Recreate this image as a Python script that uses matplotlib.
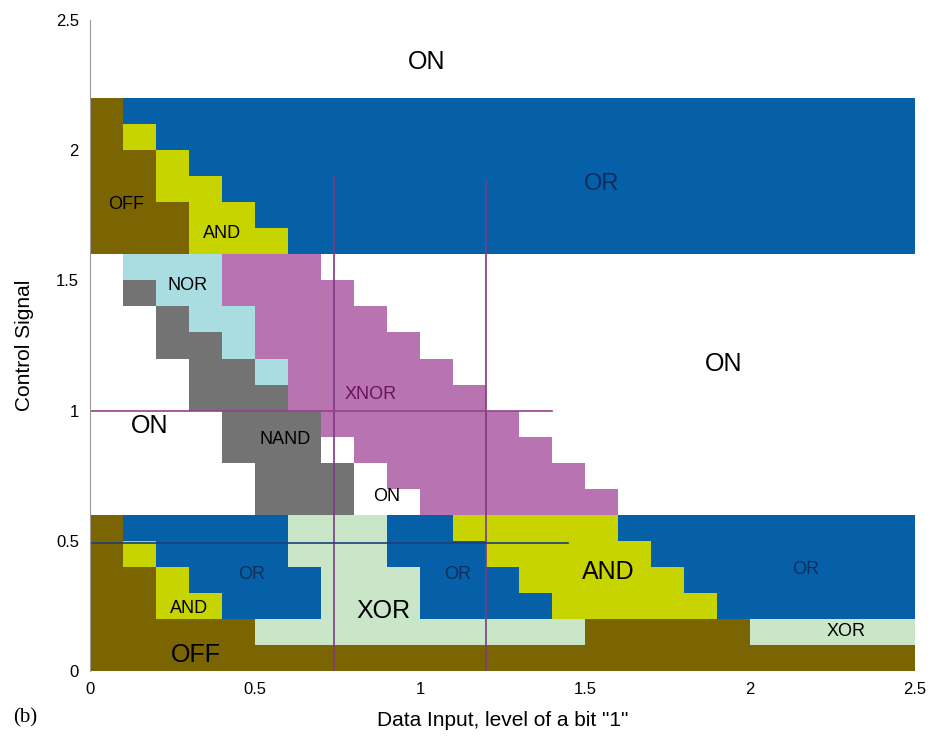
import numpy as np
import matplotlib.pyplot as plt
from matplotlib.colors import ListedColormap

# state codes: F=OFF, N=ON, O=OR, A=AND, R=NOR, X=XNOR, D=NAND, E=XOR
# each string is one row of 0.1 x 0.1 cells, x from 0 to 2.5
bottom_band = [  # control 0.0 .. 0.6
    'FFFFFFFFFFFFFFFFFFFFFFFFF',
    'FFFFFEEEEEEEEEEFFFFFEEEEE',
    'FFAAOOOEEEOOOOAAAAAOOOOOO',
    'FFAOOOOEEEOOOAAAAAOOOOOOO',
    'FAOOOOEEEOOOAAAAAOOOOOOOO',
    'FOOOOOEEEOOAAAAAOOOOOOOOO',
]
middle_band = [  # control 0.6 .. 1.6
    'NNNNNDDDNNXXXXXXNNNNNNNNN',
    'NNNNNDDDNXXXXXXNNNNNNNNNN',
    'NNNNDDDNXXXXXXNNNNNNNNNNN',
    'NNNNDDDXXXXXXNNNNNNNNNNNN',
    'NNNDDDXXXXXXNNNNNNNNNNNNN',
    'NNNDDRXXXXXNNNNNNNNNNNNNN',
    'NNDDRXXXXXNNNNNNNNNNNNNNN',
    'NNDRRXXXXNNNNNNNNNNNNNNNN',
    'NDRRXXXXNNNNNNNNNNNNNNNNN',
    'NRRRXXXNNNNNNNNNNNNNNNNNN',
]
top_band = [  # control 1.6 .. 2.2
    'FFFAAAOOOOOOOOOOOOOOOOOOO',
    'FFFAAOOOOOOOOOOOOOOOOOOOO',
    'FFAAOOOOOOOOOOOOOOOOOOOOO',
    'FFAOOOOOOOOOOOOOOOOOOOOOO',
    'FAOOOOOOOOOOOOOOOOOOOOOOO',
    'FOOOOOOOOOOOOOOOOOOOOOOOO',
]

codes = ['N', 'F', 'O', 'A', 'R', 'X', 'D', 'E']
colors = ['#ffffff', '#7b6402', '#0560a8', '#c8d400',
          '#aadde2', '#b874b0', '#737373', '#c9e6c9']

# region labels (text, x, y, size, colour)
labels = [
    ('ON', 1.02, 2.34, 18, 'black'),
    ('OR', 1.55, 1.87, 17, '#0f2d5c'),
    ('OFF', 0.11, 1.79, 13, 'black'),
    ('AND', 0.40, 1.68, 13, 'black'),
    ('NOR', 0.295, 1.48, 13, 'black'),
    ('ON', 1.92, 1.18, 18, 'black'),
    ('XNOR', 0.85, 1.06, 13, '#6b1060'),
    ('ON', 0.18, 0.94, 18, 'black'),
    ('NAND', 0.59, 0.89, 13, 'black'),
    ('ON', 0.90, 0.67, 13, 'black'),
    ('OR', 0.49, 0.37, 13, '#0f2d5c'),
    ('AND', 0.30, 0.24, 13, 'black'),
    ('OFF', 0.32, 0.06, 18, 'black'),
    ('XOR', 0.89, 0.23, 18, 'black'),
    ('OR', 1.115, 0.37, 13, '#0f2d5c'),
    ('AND', 1.57, 0.38, 18, 'black'),
    ('OR', 2.17, 0.39, 13, '#0f2d5c'),
    ('XOR', 2.29, 0.15, 13, 'black'),
]

rows = bottom_band + middle_band + top_band
grid = np.array([[codes.index(c) for c in r] for r in rows])
x_edges = np.linspace(0, 2.5, grid.shape[1] + 1)
y_edges = np.linspace(0, 2.2, grid.shape[0] + 1)

fig = plt.figure(figsize=(9.31, 7.39), dpi=100)
ax = fig.add_axes([0.0967, 0.092, 0.886, 0.881])

cmap = ListedColormap(colors)
ax.pcolormesh(x_edges, y_edges, grid, cmap=cmap, vmin=-0.5, vmax=len(codes) - 0.5,
              edgecolors='none', antialiased=False)

# guide lines
ax.plot([0.74, 0.74], [0, 1.9], color='#7d3a82', lw=1.2)
ax.plot([1.2, 1.2], [0, 1.88], color='#7d3a82', lw=1.2)
ax.plot([0, 1.4], [1.0, 1.0], color='#93428c', lw=1.2)
ax.plot([0, 1.45], [0.49, 0.49], color='#1d3f7a', lw=1.2)

for txt, x, y, size, col in labels:
    ax.text(x, y, txt, ha='center', va='center', fontsize=size, color=col,
            family=['Liberation Sans', 'DejaVu Sans'])

ax.set_xlim(0, 2.5)
ax.set_ylim(0, 2.5)
ax.set_xticks([0, 0.5, 1, 1.5, 2, 2.5])
ax.set_xticklabels(['0', '0.5', '1', '1.5', '2', '2.5'])
ax.set_yticks([0, 0.5, 1, 1.5, 2, 2.5])
ax.set_yticklabels(['0', '0.5', '1', '1.5', '2', '2.5'])
ax.tick_params(length=0, labelsize=12, pad=8)
for lab in ax.get_xticklabels() + ax.get_yticklabels():
    lab.set_family(['Liberation Sans Narrow', 'Liberation Sans', 'DejaVu Sans'])

for s in ['top', 'right', 'bottom']:
    ax.spines[s].set_visible(False)
ax.spines['left'].set_color('#9a9a9a')

ax.set_xlabel('Data Input, level of a bit "1"', fontsize=15,
              family=['Liberation Sans', 'DejaVu Sans'], labelpad=10)
ax.set_ylabel('Control Signal', fontsize=15,
              family=['Liberation Sans', 'DejaVu Sans'], labelpad=16)
fig.text(0.014, 0.022, '(b)', fontsize=15, family=['Liberation Serif', 'DejaVu Serif'])

plt.savefig('out.png', dpi=100)
